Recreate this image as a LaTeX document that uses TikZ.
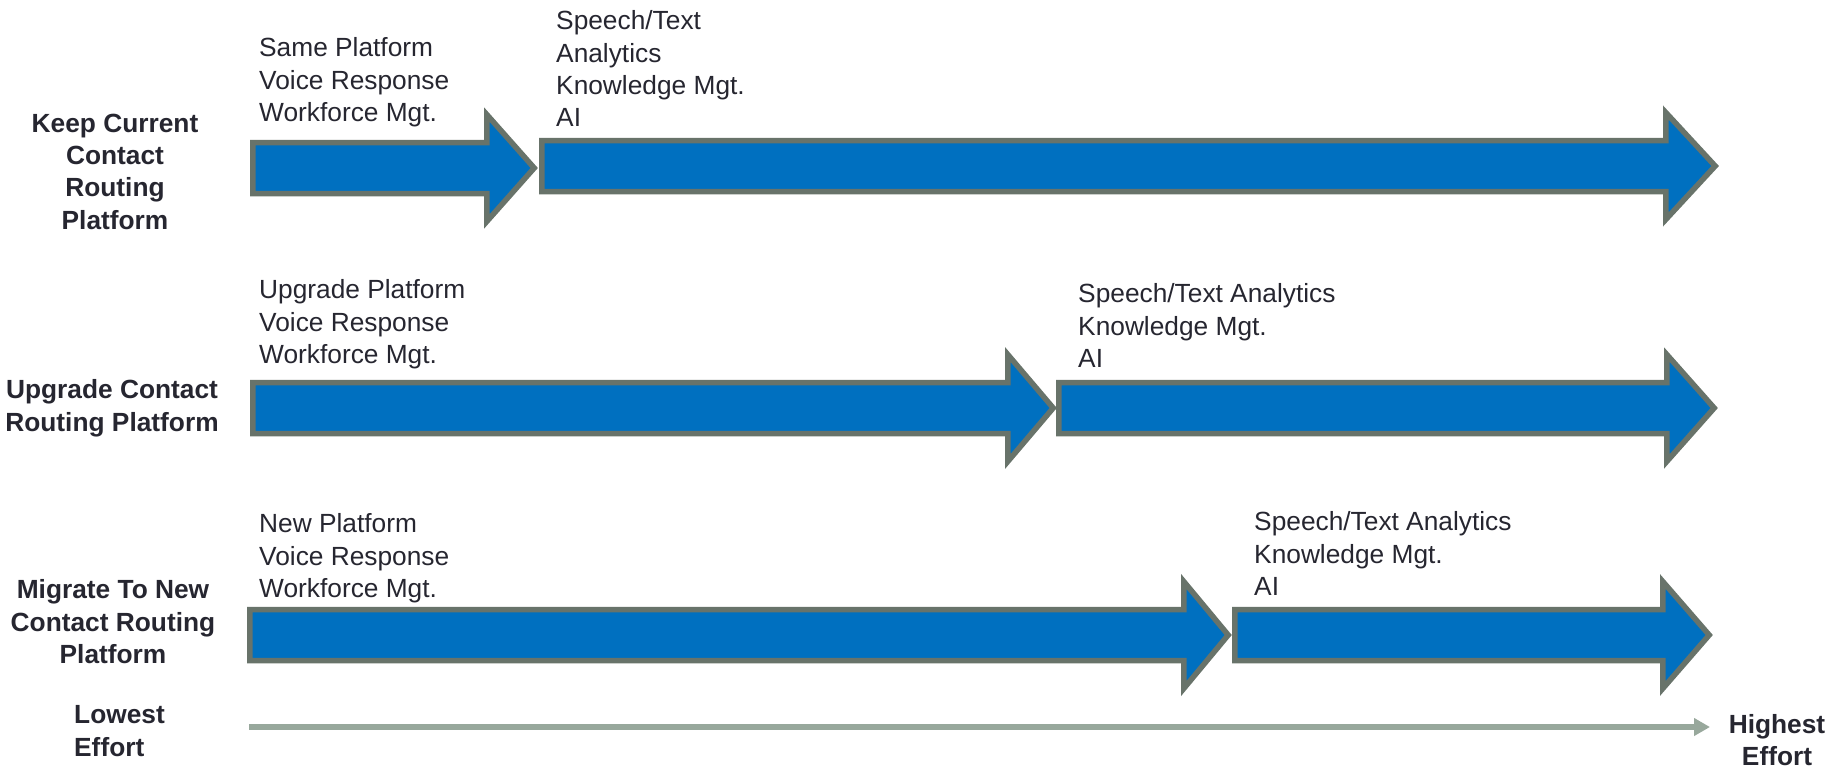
\documentclass[tikz,border=0pt]{standalone}
\usepackage{fontspec}
\setmainfont{Liberation Sans}
\usetikzlibrary{arrows.meta}

\definecolor{arrowblue}{HTML}{0070C0}
\definecolor{arrowedge}{HTML}{68736A}
\definecolor{axisgrey}{HTML}{98A89C}
\definecolor{inkdark}{HTML}{262630}

% Block arrow given by its outer edges: left x, head base x, tip x, centre y
\newcommand\blockarrow[4]{%
  \draw[blockarr]
    ({#1+2.75},{#4-25.5}) -- ({#2+2.75},{#4-25.5}) -- ({#2+2.75},{#4-53.5})
    -- ({#3-3.8},{#4}) -- ({#2+2.75},{#4+53.5}) -- ({#2+2.75},{#4+25.5})
    -- ({#1+2.75},{#4+25.5}) -- cycle;}

\tikzset{
  blockarr/.style={fill=arrowblue, draw=arrowedge, line width=5.5pt, line join=miter, miter limit=10},
  itemlist/.style={anchor=north west, inner sep=0pt, align=left, text=inkdark,
    font=\fontsize{26.3}{32.3}\selectfont},
  rowlabel/.style={anchor=north, inner sep=0pt, align=center, text=inkdark,
    font=\fontsize{26.3}{32.3}\selectfont\bfseries},
  axisline/.style={draw=axisgrey, line width=6pt, -{Triangle[length=16pt,width=17pt]}}
}

\begin{document}
\begin{tikzpicture}[x=1pt,y=-1pt]
\useasboundingbox (0,0) rectangle (1843,769);

% Row 1: keep current platform
\blockarrow{250}{484}{538}{168}
\blockarrow{539}{1663}{1719}{166}
\node[rowlabel] (keep) at (115,113.6) {Keep Current\\Contact\\Routing\\Platform};
\node[itemlist] (keepA) at (259,37.6) {Same Platform\\Voice Response\\Workforce Mgt.};
\node[itemlist] (keepB) at (556,10.6) {Speech/Text\\Analytics\\Knowledge Mgt.\\AI};

% Row 2: upgrade platform
\blockarrow{250}{1005}{1057}{408}
\blockarrow{1056}{1664}{1718}{408}
\node[rowlabel] (upgrade) at (112,379.6) {Upgrade Contact\\Routing Platform};
\node[itemlist] (upgradeA) at (259,279.6) {Upgrade Platform\\Voice Response\\Workforce Mgt.};
\node[itemlist] (upgradeB) at (1078,283.6) {Speech/Text Analytics\\Knowledge Mgt.\\AI};

% Row 3: migrate to a new platform
\blockarrow{247}{1181}{1232}{635}
\blockarrow{1232}{1660}{1713}{635}
\node[rowlabel] (migrate) at (113,579.6) {Migrate To New\\Contact Routing\\Platform};
\node[itemlist] (migrateA) at (259,513.6) {New Platform\\Voice Response\\Workforce Mgt.};
\node[itemlist] (migrateB) at (1254,511.6) {Speech/Text Analytics\\Knowledge Mgt.\\AI};

% Effort axis
\node[itemlist, font=\fontsize{26.3}{32.3}\selectfont\bfseries] (lo) at (74,705.6) {Lowest\\Effort};
\node[rowlabel] (hi) at (1777,714) {Highest\\Effort};
\coordinate (axisstart) at (249,727);
\coordinate (axisend) at (1710,727);
\draw[axisline] (axisstart) -- (axisend);
\end{tikzpicture}
\end{document}
